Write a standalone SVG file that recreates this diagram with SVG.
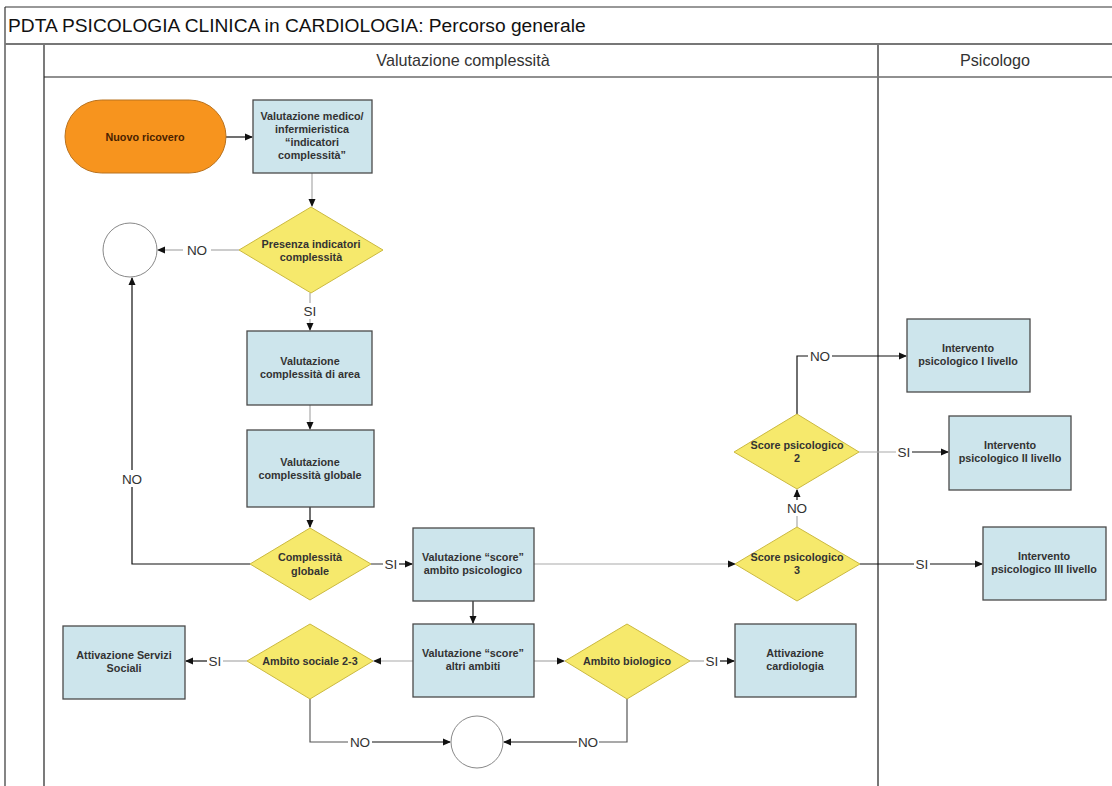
<svg xmlns="http://www.w3.org/2000/svg" width="1112" height="786" viewBox="0 0 1112 786">
<defs>
<marker id="ah" markerWidth="8" markerHeight="8" refX="7" refY="4" orient="auto" markerUnits="userSpaceOnUse">
<path d="M0,0.5 L8,4 L0,7.5 Z" fill="#111"/>
</marker>
<style>
.box{fill:#CDE5EC;stroke:#4a4a4a;stroke-width:1.3}
.dia{fill:#F6E96C;stroke:#CBB940;stroke-width:1}
.t{font-family:"Liberation Sans",Arial,sans-serif;font-size:10.8px;font-weight:bold;fill:#333;text-anchor:middle}
.lbl{font-family:"Liberation Sans",Arial,sans-serif;font-size:13.5px;fill:#333;text-anchor:middle}
.c{fill:none;stroke:#555;stroke-width:1.2}
.cl{fill:none;stroke:#aaa;stroke-width:1.2}
.cd{fill:none;stroke:#111;stroke-width:1.2}
.lane{font-family:"Liberation Sans",Arial,sans-serif;font-size:16.2px;fill:#333;text-anchor:middle}
</style>
</defs>
<rect width="1112" height="786" fill="#fff"/>
<g id="frame">
<line x1="5" y1="7" x2="1112" y2="7" stroke="#333" stroke-width="1.2"/>
<line x1="5" y1="7" x2="5" y2="786" stroke="#333" stroke-width="1.2"/>
<line x1="5" y1="44" x2="1112" y2="44" stroke="#777" stroke-width="2"/>
<line x1="44" y1="45" x2="44" y2="786" stroke="#222" stroke-width="1.2"/>
<line x1="44" y1="77" x2="1112" y2="77" stroke="#222" stroke-width="1.2"/>
<line x1="878" y1="45" x2="878" y2="786" stroke="#777" stroke-width="2"/>
<text x="8" y="32" font-family="'Liberation Sans',Arial,sans-serif" font-size="19.2" fill="#111">PDTA PSICOLOGIA CLINICA in CARDIOLOGIA: Percorso generale</text>
<text class="lane" x="463" y="66">Valutazione complessità</text>
<text class="lane" x="995" y="66">Psicologo</text>
</g>
<g id="connectors">
<line class="cd" x1="226" y1="137" x2="252" y2="137" marker-end="url(#ah)"/>
<line class="cl" x1="312" y1="173" x2="312" y2="206" marker-end="url(#ah)"/>
<line class="cl" x1="211" y1="250" x2="239" y2="250"/>
<line class="cl" x1="183" y1="250" x2="158" y2="250" marker-end="url(#ah)"/>
<text class="lbl" x="197" y="255">NO</text>
<line class="cl" x1="310" y1="293" x2="310" y2="303"/>
<line class="cl" x1="310" y1="319" x2="310" y2="330" marker-end="url(#ah)"/>
<text class="lbl" x="310" y="316">SI</text>
<line class="cl" x1="310" y1="405" x2="310" y2="429" marker-end="url(#ah)"/>
<line class="cd" x1="310" y1="507" x2="310" y2="527" marker-end="url(#ah)"/>
<polyline class="cd" points="250,564 132,564 132,278" marker-end="url(#ah)"/>
<rect x="121" y="470" width="22" height="17" fill="#fff"/>
<text class="lbl" x="132" y="484">NO</text>
<line class="c" x1="371" y1="564" x2="383" y2="564"/>
<line class="cd" x1="399" y1="564" x2="412" y2="564" marker-end="url(#ah)"/>
<text class="lbl" x="391" y="569">SI</text>
<line class="cl" x1="534" y1="564" x2="735" y2="564" marker-end="url(#ah)"/>
<line class="cd" x1="473" y1="601" x2="473" y2="623" marker-end="url(#ah)"/>
<line class="cl" x1="534" y1="661" x2="564" y2="661" marker-end="url(#ah)"/>
<line class="cl" x1="690" y1="661" x2="704" y2="661"/>
<line class="cd" x1="720" y1="661" x2="734" y2="661" marker-end="url(#ah)"/>
<text class="lbl" x="712" y="666">SI</text>
<polyline class="c" points="627,699 627,742 599,742"/>
<line class="cd" x1="577" y1="742" x2="504" y2="742" marker-end="url(#ah)"/>
<text class="lbl" x="588" y="747">NO</text>
<line class="cl" x1="413" y1="661" x2="374" y2="661" marker-end="url(#ah)"/>
<line class="cl" x1="247" y1="661" x2="223" y2="661"/>
<line class="cd" x1="207" y1="661" x2="186" y2="661" marker-end="url(#ah)"/>
<text class="lbl" x="215" y="666">SI</text>
<polyline class="c" points="310,699 310,742 348,742"/>
<line class="cd" x1="372" y1="742" x2="450" y2="742" marker-end="url(#ah)"/>
<text class="lbl" x="360" y="747">NO</text>
<line class="cl" x1="797" y1="527" x2="797" y2="516"/>
<line class="cd" x1="797" y1="500" x2="797" y2="490" marker-end="url(#ah)"/>
<text class="lbl" x="797" y="513">NO</text>
<polyline class="cd" points="797,414 797,356 808,356"/>
<line class="cd" x1="832" y1="356" x2="906" y2="356" marker-end="url(#ah)"/>
<text class="lbl" x="820" y="361">NO</text>
<line class="cl" x1="859" y1="452" x2="896" y2="452"/>
<line class="cd" x1="912" y1="452" x2="948" y2="452" marker-end="url(#ah)"/>
<text class="lbl" x="904" y="457">SI</text>
<line class="cd" x1="860" y1="564" x2="914" y2="564"/>
<line class="cd" x1="930" y1="564" x2="982" y2="564" marker-end="url(#ah)"/>
<text class="lbl" x="922" y="569">SI</text>
</g>
<g id="nuovo-ricovero">
<rect x="65" y="100" width="161" height="73" rx="36.5" ry="36.5" fill="#F7941E" stroke="#B9721E" stroke-width="1"/>
<text class="t" x="145" y="141" style="fill:#4a2200">Nuovo ricovero</text>
</g>
<g id="val-medico">
<rect class="box" x="253" y="100" width="119" height="73"/>
<text class="t" x="312" y="120">Valutazione medico/</text>
<text class="t" x="312" y="133">infermieristica</text>
<text class="t" x="312" y="146">“indicatori</text>
<text class="t" x="312" y="159">complessità”</text>
</g>
<g id="presenza-indicatori">
<polygon class="dia" points="311,207 383,250 311,293 239,250"/>
<text class="t" x="311" y="248">Presenza indicatori</text>
<text class="t" x="311" y="261">complessità</text>
</g>
<g id="circle-top">
<circle cx="130" cy="250" r="27" fill="#fff" stroke="#888" stroke-width="1"/>
</g>
<g id="val-area">
<rect class="box" x="247" y="331" width="125" height="74"/>
<text class="t" x="310" y="365">Valutazione</text>
<text class="t" x="310" y="378">complessità di area</text>
</g>
<g id="val-globale">
<rect class="box" x="247" y="430" width="127" height="77"/>
<text class="t" x="310" y="466">Valutazione</text>
<text class="t" x="310" y="479">complessità globale</text>
</g>
<g id="complessita-globale">
<polygon class="dia" points="310,528 371,564 310,600 250,564"/>
<text class="t" x="310" y="561">Complessità</text>
<text class="t" x="310" y="575">globale</text>
</g>
<g id="score-psicologico">
<rect class="box" x="413" y="528" width="121" height="73"/>
<text class="t" x="473" y="561">Valutazione “score”</text>
<text class="t" x="473" y="574">ambito psicologico</text>
</g>
<g id="score-altri">
<rect class="box" x="413" y="624" width="121" height="73"/>
<text class="t" x="473" y="657">Valutazione “score”</text>
<text class="t" x="473" y="670">altri ambiti</text>
</g>
<g id="ambito-biologico">
<polygon class="dia" points="627,624 690,661 627,699 565,661"/>
<text class="t" x="627" y="665">Ambito biologico</text>
</g>
<g id="attivazione-cardiologia">
<rect class="box" x="735" y="624" width="121" height="73"/>
<text class="t" x="795" y="657">Attivazione</text>
<text class="t" x="795" y="670">cardiologia</text>
</g>
<g id="circle-bottom">
<circle cx="477" cy="742" r="26" fill="#fff" stroke="#888" stroke-width="1"/>
</g>
<g id="ambito-sociale">
<polygon class="dia" points="310,624 373,661 310,699 247,661"/>
<text class="t" x="310" y="665">Ambito sociale 2-3</text>
</g>
<g id="servizi-sociali">
<rect class="box" x="63" y="626" width="122" height="73"/>
<text class="t" x="124" y="659">Attivazione Servizi</text>
<text class="t" x="124" y="672">Sociali</text>
</g>
<g id="score-3">
<polygon class="dia" points="797,527 860,564 797,601 735,564"/>
<text class="t" x="797" y="561">Score psicologico</text>
<text class="t" x="797" y="574">3</text>
</g>
<g id="score-2">
<polygon class="dia" points="797,414 859,452 797,489 734,452"/>
<text class="t" x="797" y="449">Score psicologico</text>
<text class="t" x="797" y="462">2</text>
</g>
<g id="intervento-1">
<rect class="box" x="907" y="319" width="123" height="73"/>
<text class="t" x="968" y="352">Intervento</text>
<text class="t" x="968" y="365">psicologico I livello</text>
</g>
<g id="intervento-2">
<rect class="box" x="949" y="416" width="122" height="74"/>
<text class="t" x="1010" y="449">Intervento</text>
<text class="t" x="1010" y="462">psicologico II livello</text>
</g>
<g id="intervento-3">
<rect class="box" x="983" y="527" width="123" height="73"/>
<text class="t" x="1044" y="560">Intervento</text>
<text class="t" x="1044" y="573">psicologico III livello</text>
</g>
</svg>
